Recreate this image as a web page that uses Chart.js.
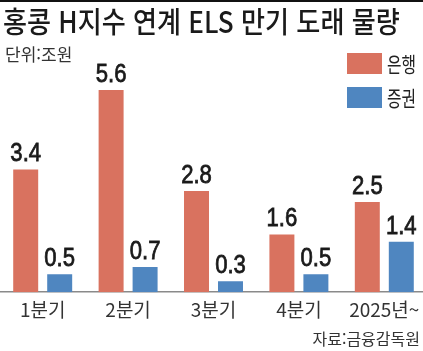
<!DOCTYPE html>
<html lang="ko">
<head>
<meta charset="UTF-8">
<title>홍콩 H지수 연계 ELS 만기 도래 물량</title>
<script src="https://cdn.jsdelivr.net/npm/chart.js@4.4.1/dist/chart.umd.min.js"></script>
<style>
  html, body { margin: 0; padding: 0; background: #fff; overflow: hidden; }
  body { width: 423px; height: 351px; position: relative; font-family: "Noto Sans CJK KR", sans-serif; color: #222; }
  #wrap { position: absolute; left: 0; top: 0; width: 428px; height: 351px; }
  #topline { position: absolute; left: 0; top: 0; width: 423px; height: 2px; background: #111; }
  #title { position: absolute; left: 3px; top: 6px; font-size: 29px; font-weight: 500; line-height: 1; white-space: nowrap; transform-origin: 0 0; transform: scaleX(0.9); color: #1a1a1a; }
  #unit { position: absolute; left: 5px; top: 45px; font-size: 17px; line-height: 1; color: #333; }
  #source { position: absolute; right: 3px; top: 330px; font-size: 16px; line-height: 1; color: #333; }
  #legend { position: absolute; left: 347px; top: 53px; }
  #legend .item { display: flex; align-items: center; height: 21px; margin-bottom: 13px; }
  #legend .swatch { width: 35px; height: 21px; flex: none; }
  #legend .txt { margin-left: 5px; font-size: 21px; line-height: 1; color: #222; transform: scaleX(0.75); transform-origin: 0 50%; white-space: nowrap; }
</style>
</head>
<body>
  <div id="wrap"><canvas id="chart" width="428" height="351"></canvas></div>
  <div id="topline"></div>
  <div id="title">홍콩 H지수 연계 ELS 만기 도래 물량</div>
  <div id="unit">단위:조원</div>
  <div id="legend"></div>
  <div id="source">자료:금융감독원</div>

<script>
  // 조원
  const quarters = ['1분기', '2분기', '3분기', '4분기', '2025년~'];
  const bankValues = [3.4, 5.6, 2.8, 1.6, 2.5];
  const securitiesValues = [0.5, 0.7, 0.3, 0.5, 1.4];

  // legend drawn as html, built from the datasets
  const htmlLegend = {
    id: 'htmlLegend',
    afterUpdate(chart) {
      const box = document.getElementById('legend');
      box.innerHTML = '';
      const items = chart.options.plugins.legend.labels.generateLabels(chart);
      items.forEach(item => {
        const row = document.createElement('div');
        row.className = 'item';
        const sw = document.createElement('span');
        sw.className = 'swatch';
        sw.style.background = item.fillStyle;
        const tx = document.createElement('span');
        tx.className = 'txt';
        tx.textContent = item.text;
        row.append(sw, tx);
        box.append(row);
      });
    }
  };

  // numbers above the bars, squeezed a bit to look condensed
  const valueLabels = {
    id: 'valueLabels',
    afterDatasetsDraw(chart) {
      const ctx = chart.ctx;
      chart.data.datasets.forEach((ds, i) => {
        chart.getDatasetMeta(i).data.forEach((bar, j) => {
          const txt = ds.data[j].toFixed(1);
          ctx.save();
          ctx.translate(bar.x, bar.y - 8);
          ctx.scale(0.85, 1);
          ctx.font = '26px "Liberation Sans", Arial, sans-serif';
          ctx.fillStyle = '#1a1a1a';
          ctx.strokeStyle = '#1a1a1a';
          ctx.lineWidth = 0.8;
          ctx.textAlign = 'center';
          ctx.textBaseline = 'alphabetic';
          ctx.fillText(txt, 0, 0);
          ctx.strokeText(txt, 0, 0);
          ctx.restore();
        });
      });
    }
  };

  new Chart(document.getElementById('chart'), {
    type: 'bar',
    data: {
      labels: quarters,
      datasets: [
        { label: '은행', data: bankValues, backgroundColor: '#d9725f' },
        { label: '증권', data: securitiesValues, backgroundColor: '#4f86c0' }
      ]
    },
    options: {
      responsive: false,
      animation: false,
      devicePixelRatio: 1,
      categoryPercentage: 0.796,
      barPercentage: 0.735,
      layout: { padding: { top: 75.6, left: 0, right: 1, bottom: 24 } },
      plugins: {
        legend: { display: false },
        tooltip: { enabled: false }
      },
      scales: {
        x: {
          grid: { display: false, drawTicks: false },
          border: { display: true, color: '#8a8a8a', width: 1.5 },
          ticks: {
            color: '#333',
            padding: 6,
            maxRotation: 0,
            autoSkip: false,
            font: { family: '"Noto Sans CJK KR", sans-serif', size: 19 }
          }
        },
        y: { display: false, min: 0, max: 6 }
      }
    },
    plugins: [htmlLegend, valueLabels]
  });
</script>
</body>
</html>
